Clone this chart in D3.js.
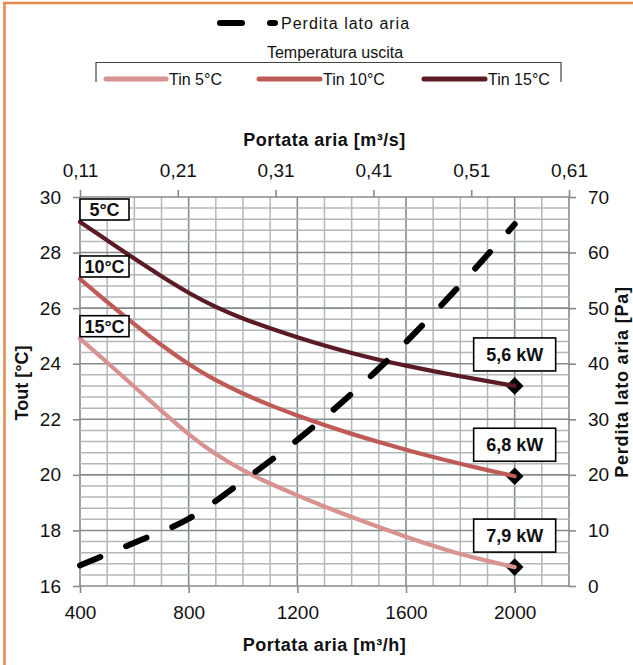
<!DOCTYPE html>
<html>
<head>
<meta charset="utf-8">
<script src="https://cdn.jsdelivr.net/npm/d3@7"></script>
<style>
  html, body { margin: 0; padding: 0; background: #ffffff; }
  svg { display: block; font-family: "Liberation Sans", Arial, sans-serif; }
</style>
</head>
<body>
<svg id="chart" width="633" height="665"></svg>
<script>
// Air flow rate (m³/h) at which the outlet temperatures are given
const flowRate = [400, 500, 600, 700, 800, 900, 1000, 1100, 1200, 1300, 1400, 1500, 1600, 1700, 1800, 1900, 2000];
// Outlet temperature [°C] for each inlet water temperature
const toutTin5  = [24.9, 24.05, 23.17, 22.3, 21.45, 20.72, 20.15, 19.68, 19.26, 18.86, 18.48, 18.12, 17.77, 17.44, 17.14, 16.9, 16.68];
const toutTin10 = [27.05, 26.22, 25.42, 24.66, 23.97, 23.39, 22.92, 22.5, 22.13, 21.79, 21.47, 21.18, 20.9, 20.64, 20.4, 20.17, 19.95];
const toutTin15 = [29.1, 28.44, 27.78, 27.14, 26.54, 26.03, 25.62, 25.27, 24.95, 24.65, 24.38, 24.14, 23.93, 23.73, 23.55, 23.37, 23.2];
// Air side pressure drop [Pa]
const lossFlow = [400, 600, 800, 1000, 1200, 1400, 1600, 1800, 2000];
const lossPa   = [3.7, 7.8, 12.1, 18.9, 26.3, 34.6, 43.9, 54.2, 65.1];
// Series names, curve tags and capacity at the last point
const seriesNames = ["Tin 5°C", "Tin 10°C", "Tin 15°C"];
const deltaTags   = ["15°C", "10°C", "5°C"];
const capacityTags = ["7,9 kW", "6,8 kW", "5,6 kW"];
// Tick values
const bottomTicks = [400, 800, 1200, 1600, 2000];
const topTicks    = [0.11, 0.21, 0.31, 0.41, 0.51, 0.61];
const leftTicks   = [16, 18, 20, 22, 24, 26, 28, 30];
const rightTicks  = [0, 10, 20, 30, 40, 50, 60, 70];

const colors = ["#d89290", "#bf5b57", "#5a1b24"];
const seriesValues = [toutTin5, toutTin10, toutTin15];

const svg = d3.select("#chart");
const L = 80, R = 569, T = 197, B = 586;

const x = d3.scaleLinear().domain([400, 2200]).range([L, R]);
const xTop = d3.scaleLinear().domain([0.11, 0.61]).range([L, R]);
const y = d3.scaleLinear().domain([16, 30]).range([B, T]);
const yR = d3.scaleLinear().domain([0, 70]).range([B, T]);

// Frame lines of the panel
svg.append("line").attr("x1", 4.5).attr("x2", 4.5).attr("y1", 2).attr("y2", 665)
  .attr("stroke", "#e8894a").attr("stroke-width", 2.5);
svg.append("line").attr("x1", 3).attr("x2", 633).attr("y1", 3).attr("y2", 3)
  .attr("stroke", "#e8894a").attr("stroke-width", 2.5);

// Grid
const grid = svg.append("g");
d3.range(400, 2201, 100).forEach(v => {
  const major = (v - 400) % 400 === 0 || v === 2200;
  grid.append("line")
    .attr("x1", x(v)).attr("x2", x(v)).attr("y1", T).attr("y2", B)
    .attr("stroke", major ? "#868b8b" : "#b3b8b8").attr("stroke-width", major ? 1.6 : 1.5);
});
d3.range(0, 71, 2).forEach(v => {
  const major = v % 10 === 0;
  grid.append("line")
    .attr("x1", L).attr("x2", R).attr("y1", yR(v)).attr("y2", yR(v))
    .attr("stroke", major ? "#868b8b" : "#b3b8b8").attr("stroke-width", major ? 1.6 : 1.5);
});

// Axes
function styleAxis(g) {
  g.select(".domain").remove();
  g.selectAll(".tick line").attr("stroke", "#868b8b").attr("stroke-width", 1.6);
  g.selectAll(".tick text").attr("fill", "#111").style("font-size", "19px")
    .style("font-family", "'Liberation Sans', Arial, sans-serif");
}
const fmtComma = d => d3.format(".2f")(d).replace(".", ",");
svg.append("g").attr("transform", `translate(0,${B})`)
  .call(d3.axisBottom(x).tickValues(bottomTicks).tickSize(7).tickPadding(13).tickFormat(d3.format("d")))
  .call(styleAxis);
svg.append("g").attr("transform", `translate(0,${T})`)
  .call(d3.axisTop(xTop).tickValues(topTicks).tickSize(7).tickPadding(13).tickFormat(fmtComma))
  .call(styleAxis);
svg.append("g").attr("transform", `translate(${L},0)`)
  .call(d3.axisLeft(y).tickValues(leftTicks).tickSize(7).tickPadding(12).tickFormat(d3.format("d")))
  .call(styleAxis);
svg.append("g").attr("transform", `translate(${R},0)`)
  .call(d3.axisRight(yR).tickValues(rightTicks).tickSize(7).tickPadding(12).tickFormat(d3.format("d")))
  .call(styleAxis);

// Axis titles
const titleStyle = sel => sel.attr("font-weight", "bold").attr("font-size", 18)
  .attr("letter-spacing", 0.5).attr("fill", "#111").attr("text-anchor", "middle");
svg.append("text").attr("x", (L + R) / 2).attr("y", 140).attr("dy", "0.35em")
  .text("Portata aria [m³/s]").call(titleStyle);
svg.append("text").attr("x", (L + R) / 2).attr("y", 645).attr("dy", "0.35em")
  .text("Portata aria [m³/h]").call(titleStyle);
svg.append("text").attr("transform", "translate(21.5,383) rotate(-90)").attr("dy", "0.35em")
  .text("Tout [°C]").call(titleStyle).attr("letter-spacing", 0);
svg.append("text").attr("transform", "translate(622,382) rotate(-90)").attr("dy", "0.35em")
  .text("Perdita lato aria [Pa]").call(titleStyle).attr("letter-spacing", 0.8);

// End markers (diamonds) under the curves
const last = flowRate.length - 1;
seriesValues.forEach(vals => {
  svg.append("path")
    .attr("d", d3.symbol().type(d3.symbolDiamond2).size(200)())
    .attr("transform", `translate(${x(flowRate[last])},${y(vals[last])})`)
    .attr("fill", "#000");
});

// Temperature curves (smoothed through the read points)
const line = d3.line().x((d, i) => x(flowRate[i])).y(d => y(d)).curve(d3.curveBasis);
seriesValues.forEach((vals, k) => {
  svg.append("path").attr("d", line(vals)).attr("fill", "none")
    .attr("stroke", colors[k]).attr("stroke-width", 4.2).attr("stroke-linecap", "round");
});

// Pressure drop curve
const lossLine = d3.line().x((d, i) => x(lossFlow[i])).y(d => yR(d)).curve(d3.curveMonotoneX);
svg.append("path").attr("d", lossLine(lossPa)).attr("fill", "none")
  .attr("stroke", "#000").attr("stroke-width", 6)
  .attr("stroke-dasharray", "22 28").attr("stroke-linecap", "round");

// Tags at the start of each curve
seriesValues.forEach((vals, k) => {
  const py = y(vals[0]);
  const g = svg.append("g");
  g.append("rect").attr("x", L).attr("y", py - 23).attr("width", 49).attr("height", 21)
    .attr("fill", "#fff").attr("stroke", "#000").attr("stroke-width", 1.6);
  g.append("text").attr("x", L + 24.5).attr("y", py - 12.5).attr("dy", "0.35em")
    .attr("text-anchor", "middle").attr("font-weight", "bold").attr("font-size", 18)
    .attr("fill", "#111").text(deltaTags[k]);
});

// Capacity tags above the end markers
seriesValues.forEach((vals, k) => {
  const px = x(flowRate[last]), py = y(vals[last]);
  const g = svg.append("g");
  g.append("rect").attr("x", px - 41).attr("y", py - 48).attr("width", 82).attr("height", 33)
    .attr("fill", "#fff").attr("stroke", "#000").attr("stroke-width", 1.6);
  g.append("text").attr("x", px).attr("y", py - 31.5).attr("dy", "0.35em")
    .attr("text-anchor", "middle").attr("font-weight", "bold").attr("font-size", 18)
    .attr("fill", "#111").text(capacityTags[k]);
});

// Legend
const leg = svg.append("g").attr("font-size", 16).attr("fill", "#111");
leg.append("line").attr("x1", 220).attr("x2", 275).attr("y1", 23).attr("y2", 23)
  .attr("stroke", "#000").attr("stroke-width", 6).attr("stroke-dasharray", "22 28")
  .attr("stroke-linecap", "round");
leg.append("text").attr("x", 281).attr("y", 23).attr("dy", "0.35em")
  .attr("letter-spacing", 1).text("Perdita lato aria");
leg.append("text").attr("x", 335).attr("y", 52).attr("dy", "0.35em")
  .attr("text-anchor", "middle").text("Temperatura uscita");
leg.append("path").attr("d", "M96,82V62.5H561V82").attr("fill", "none")
  .attr("stroke", "#444").attr("stroke-width", 1.2);
const legX = [[106, 166, 169], [259, 320, 323], [424, 485, 488]];
seriesNames.forEach((name, k) => {
  leg.append("line").attr("x1", legX[k][0]).attr("x2", legX[k][1]).attr("y1", 79).attr("y2", 79)
    .attr("stroke", colors[k]).attr("stroke-width", 5).attr("stroke-linecap", "round");
  leg.append("text").attr("x", legX[k][2]).attr("y", 79).attr("dy", "0.35em").text(name);
});
</script>
</body>
</html>
